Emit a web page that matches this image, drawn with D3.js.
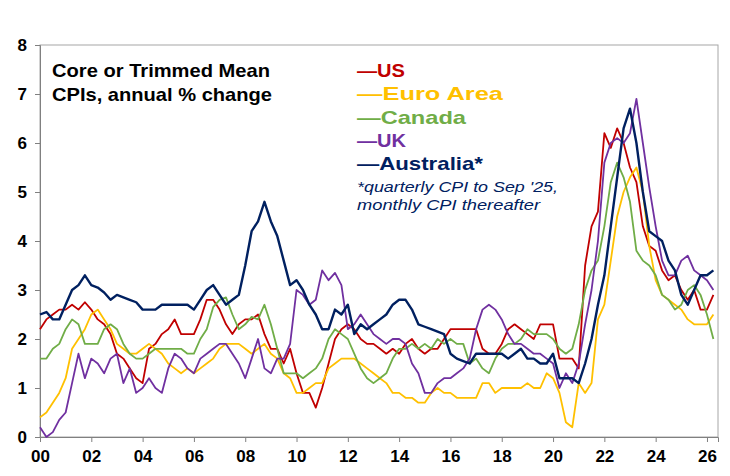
<!DOCTYPE html>
<html>
<head>
    <script src="https://d3js.org/d3.v7.min.js"></script>
    <style>
        body, html { margin: 0; background: #fff; }
        svg text { font-family: "Liberation Sans", Arial, sans-serif; }
    </style>
</head>
<body>
<div id="chart"></div>
<script>
    // quarterly readings, starting Q1 2000
    const startYear = 2000;
    const us = [2.2,2.4,2.5,2.6, 2.6,2.7,2.6,2.75, 2.6,2.4,2.3,2.1, 1.7,1.6,1.4,1.2, 1.1,1.8,1.9,2.1,
        2.2,2.4,2.1,2.1, 2.1,2.4,2.8,2.8, 2.6,2.3,2.1,2.3, 2.4,2.4,2.5,2.1, 1.8,1.8,1.5,1.8,
        1.3,0.9,0.9,0.6, 1.0,1.5,2.0,2.2, 2.3,2.2,2.0,1.9, 1.9,1.8,1.7,1.8, 1.7,1.9,2.0,1.8,
        1.7,1.8,1.8,2.0, 2.2,2.2,2.2,2.2, 2.2,1.8,1.7,1.7, 1.9,2.2,2.3,2.2, 2.1,2.0,2.3,2.3,
        2.3,1.6,1.6,1.6, 1.4,3.5,4.3,4.6, 6.2,5.9,6.3,6.0, 5.5,5.2,4.3,3.9, 3.8,3.4,3.2,3.3,
        3.0,2.8,3.0,2.6, 2.6,2.9];
    const euro = [0.4,0.5,0.7,0.9, 1.2,1.8,2.0,2.2, 2.5,2.6,2.4,2.2, 1.9,1.8,1.7,1.7, 1.8,1.9,1.8,1.7,
        1.5,1.4,1.3,1.4, 1.3,1.4,1.5,1.6, 1.8,1.9,1.9,1.9, 1.8,1.7,1.8,1.9, 1.7,1.6,1.3,1.2,
        0.9,0.9,1.0,1.1, 1.1,1.4,1.5,1.6, 1.6,1.6,1.5,1.4, 1.3,1.2,1.1,0.9, 0.9,0.8,0.8,0.7,
        0.7,0.9,1.0,0.9, 0.9,0.8,0.8,0.8, 0.8,1.1,1.1,0.9, 1.0,1.0,1.0,1.0, 1.1,1.0,1.0,1.3,
        1.2,0.9,0.3,0.2, 1.1,0.9,1.1,2.4, 2.7,3.6,4.5,5.0, 5.3,5.5,5.0,3.9, 3.2,2.9,2.8,2.7,
        2.6,2.4,2.3,2.3, 2.3,2.5];
    const canada = [1.6,1.6,1.8,1.9, 2.2,2.4,2.3,1.9, 1.9,1.9,2.2,2.3, 2.2,1.9,1.7,1.6, 1.6,1.7,1.8,1.8,
        1.8,1.8,1.8,1.7, 1.7,2.0,2.2,2.65, 2.8,2.85,2.5,2.2, 2.3,2.45,2.4,2.7, 2.3,1.8,1.3,1.3,
        1.3,1.2,1.3,1.4, 1.6,2.0,2.2,2.1, 2.0,1.7,1.4,1.2, 1.1,1.2,1.3,1.6, 1.8,1.8,1.9,1.8,
        1.9,1.8,2.0,1.9, 2.0,1.9,1.9,1.5, 1.6,1.4,1.3,1.6, 1.8,1.9,1.9,2.0, 2.2,2.1,2.1,2.1,
        2.0,1.8,1.7,1.8, 2.3,3.0,3.4,3.6, 4.3,5.2,5.6,5.3, 4.8,3.8,3.6,3.5, 3.3,2.9,2.8,2.6,
        2.7,3.0,3.1,2.9, 2.5,2.0];
    const uk = [0.2,0.0,0.1,0.35, 0.5,1.1,1.7,1.2, 1.6,1.5,1.3,1.6, 1.7,1.1,1.4,0.9, 1.0,1.2,1.0,0.9,
        1.4,1.7,1.6,1.4, 1.3,1.6,1.7,1.8, 1.9,1.9,1.7,1.5, 1.2,1.6,2.0,1.4, 1.3,1.6,1.6,1.9,
        3.0,2.9,2.7,2.8, 3.4,3.2,3.35,3.1, 2.2,2.3,2.5,2.3, 2.1,2.0,1.9,2.0, 2.0,1.9,1.5,1.3,
        0.9,0.9,1.1,1.2, 1.2,1.3,1.4,1.6, 2.2,2.6,2.7,2.6, 2.4,2.1,1.9,1.9, 1.8,1.7,1.7,1.6,
        1.5,1.0,1.3,1.1, 1.5,2.3,3.0,4.0, 5.6,6.0,6.1,6.0, 6.2,6.9,6.0,5.1, 4.3,3.6,3.3,3.3,
        3.6,3.7,3.4,3.3, 3.2,3.0];
    const australia = [2.5,2.55,2.4,2.4, 2.7,3.0,3.1,3.3, 3.1,3.05,2.95,2.8, 2.9,2.85,2.8,2.75, 2.6,2.6,2.6,2.7,
        2.7,2.7,2.7,2.7, 2.6,2.8,3.0,3.1, 2.9,2.7,2.8,2.9, 3.5,4.2,4.4,4.8, 4.4,4.1,3.6,3.1,
        3.2,3.0,2.7,2.5, 2.2,2.2,2.6,2.5, 2.7,2.1,2.3,2.2, 2.3,2.4,2.5,2.7, 2.8,2.8,2.6,2.3,
        2.25,2.2,2.15,2.1, 1.7,1.6,1.55,1.5, 1.7,1.7,1.7,1.7, 1.7,1.6,1.7,1.8, 1.6,1.6,1.5,1.5,
        1.7,1.2,1.2,1.2, 1.1,1.5,2.0,2.7, 3.3,4.3,5.3,6.3, 6.7,6.0,5.0,4.2, 4.1,4.0,3.6,3.4,
        2.9,2.7,3.0,3.3, 3.3,3.4];

    const seriesNames = ["US", "Euro Area", "Canada", "UK", "Australia*"];
    const seriesValues = [us, euro, canada, uk, australia];
    const colors = ["#C00000", "#FFC000", "#70AD47", "#7030A0", "#002060"];
    const yTicks = [0, 1, 2, 3, 4, 5, 6, 7, 8];
    const xTickYears = d3.range(2000, 2027, 2);

    const width = 730, height = 476;
    const margin = {left: 40, right: 12, top: 45, bottom: 39};

    const svg = d3.select("#chart").append("svg")
        .attr("width", width).attr("height", height);

    const x = d3.scaleLinear().domain([2000, 2026.43]).range([margin.left, width - margin.right]);
    const y = d3.scaleLinear().domain([0, 8]).range([height - margin.bottom, margin.top]);

    // plot frame
    svg.append("rect")
        .attr("x", margin.left).attr("y", margin.top)
        .attr("width", width - margin.right - margin.left)
        .attr("height", height - margin.bottom - margin.top)
        .attr("fill", "none").attr("stroke", "#a6a6a6");

    const yAxis = svg.append("g")
        .attr("transform", `translate(${margin.left},0)`)
        .call(d3.axisLeft(y).tickValues(yTicks).tickFormat(d3.format("d")).tickSize(5).tickPadding(8));
    const xAxis = svg.append("g")
        .attr("transform", `translate(0,${height - margin.bottom})`)
        .call(d3.axisBottom(x).tickValues(xTickYears)
            .tickFormat(d => String(d % 100).padStart(2, "0")).tickSize(5).tickPadding(8));
    [yAxis, xAxis].forEach(a => {
        a.select(".domain").attr("stroke", "#808080");
        a.selectAll(".tick line").attr("stroke", "#808080");
        a.selectAll("text").attr("font-size", 17).attr("font-weight", "bold").attr("fill", "#000");
    });

    const line = d3.line()
        .x((d, i) => x(startYear + i / 4))
        .y(d => y(d));

    seriesValues.forEach((vals, k) => {
        svg.append("path")
            .datum(vals)
            .attr("fill", "none")
            .attr("stroke", colors[k])
            .attr("stroke-width", k === 4 ? 2.4 : 1.8)
            .attr("stroke-linejoin", "round")
            .attr("d", line);
    });

    // title
    const titleLines = ["Core or Trimmed Mean", "CPIs, annual % change"];
    const titleWidths = [218, 220];
    titleLines.forEach((t, i) => {
        svg.append("text").attr("x", 52).attr("y", 77 + i * 23.5)
            .attr("font-size", 19).attr("font-weight", "bold").attr("fill", "#000")
            .attr("textLength", titleWidths[i]).attr("lengthAdjust", "spacingAndGlyphs")
            .text(t);
    });

    // legend
    const legendWidths = [48, 146, 109, 49, 126];
    seriesNames.forEach((name, k) => {
        svg.append("text")
            .attr("x", 357).attr("y", 77 + k * 23.3)
            .attr("font-size", 19).attr("font-weight", "bold")
            .attr("fill", colors[k])
            .attr("textLength", legendWidths[k]).attr("lengthAdjust", "spacingAndGlyphs")
            .text("\u2014" + name);
    });
    const noteLines = ["*quarterly CPI to Sep '25,", "monthly CPI thereafter"];
    const noteWidths = [201, 183];
    noteLines.forEach((t, i) => {
        svg.append("text").attr("x", 357).attr("y", 192 + i * 18)
            .attr("font-size", 15).attr("font-style", "italic").attr("fill", "#002060")
            .attr("textLength", noteWidths[i]).attr("lengthAdjust", "spacingAndGlyphs")
            .text(t);
    });
</script>
</body>
</html>
